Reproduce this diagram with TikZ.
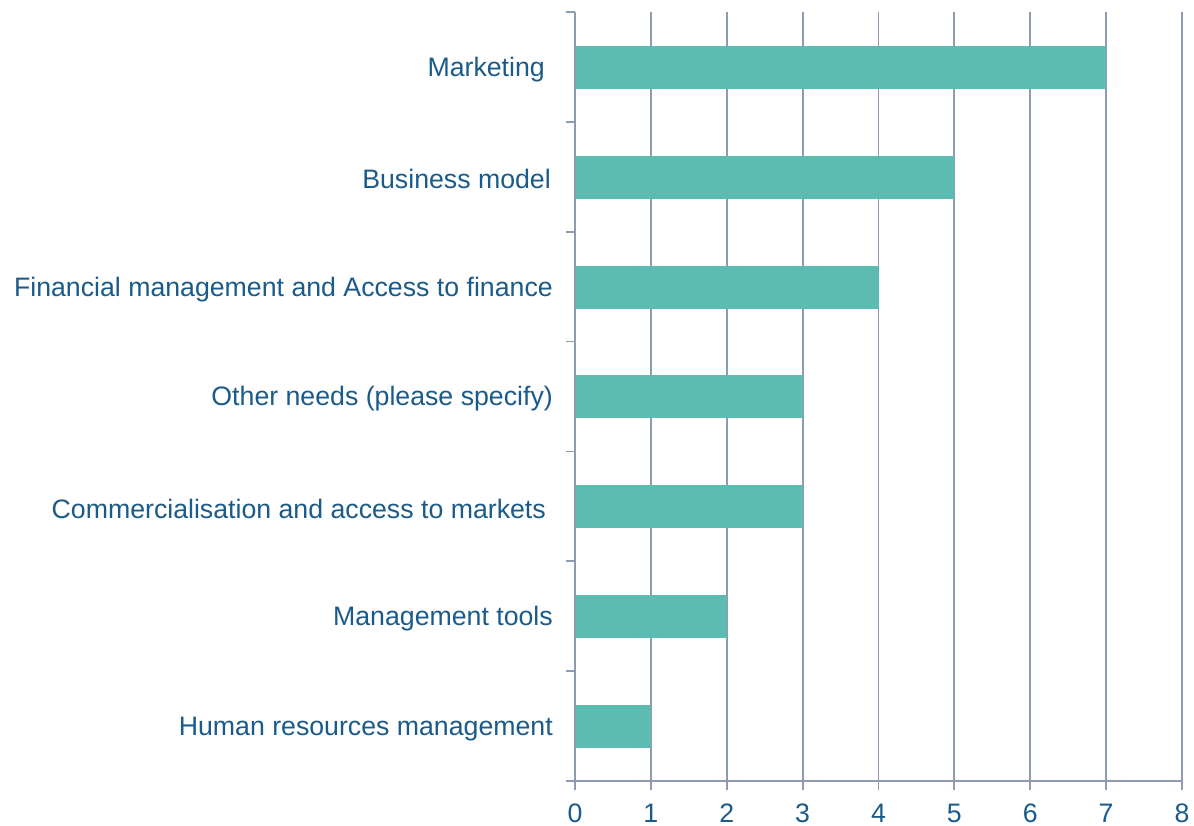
\documentclass[tikz,border=0pt]{standalone}
\usepackage{fontspec}
\setmainfont{Liberation Sans}
\definecolor{txt}{HTML}{1A5B8A}
\definecolor{bar}{HTML}{5CBCB1}
\definecolor{grid}{HTML}{8E9BB0}
\begin{document}
\begin{tikzpicture}[x=1pt,y=-1pt,
  lab/.style={anchor=east,inner sep=0pt,text=txt,font=\fontsize{26.7}{30}\selectfont},
  num/.style={anchor=center,inner sep=0pt,text=txt,font=\fontsize{26.7}{30}\selectfont},
  gridline/.style={draw=grid,line width=1.8pt},
  barbox/.style={fill=bar,draw=none}]
\useasboundingbox (0,0) rectangle (1194,826);
\fill[white] (0,0) rectangle (1194,826);
% grid lines
\foreach \i in {1,...,8}{
  \draw[gridline] (575+75.875*\i,12) -- (575+75.875*\i,790);
}
% axis
\draw[gridline] (575,12) -- (575,790);
\draw[gridline] (566,781) -- (1183,781);
\foreach \k in {0,...,6}{
  \draw[gridline] (566,12+109.857*\k) -- (575,12+109.857*\k);
}
% bars
\foreach \v/\k in {7/0,5/1,4/2,3/3,3/4,2/5,1/6}{
  \fill[bar] (576,45.9+109.857*\k) rectangle (575+75.875*\v,88.9+109.857*\k);
}
% labels
\node[lab] (l0) at (545,69.4) {Marketing};
\node[lab] (l1) at (551,179.3) {Business model};
\node[lab] (l2) at (553,289.1) {Financial management and Access to finance};
\node[lab] (l3) at (553,399.0) {Other needs (please specify)};
\node[lab] (l4) at (546,508.9) {Commercialisation and access to markets};
\node[lab] (l5) at (553,618.7) {Management tools};
\node[lab] (l6) at (553,728.6) {Human resources management};
% numbers
\foreach \i in {0,...,8}{
  \node[num] (n\i) at (575+75.875*\i,813) {\i};
}
\end{tikzpicture}
\end{document}
